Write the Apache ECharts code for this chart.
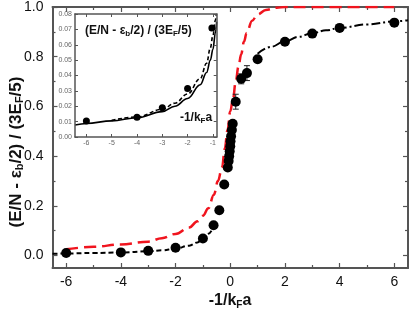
<!DOCTYPE html>
<html>
<head>
<meta charset="utf-8">
<script src="https://cdn.jsdelivr.net/npm/echarts@6/dist/echarts.min.js"></script>
<style>html,body{margin:0;padding:0;background:#fff}#c{width:409px;height:312px}</style>
</head>
<body>
<div id="c"></div>
<script>
// ---- data ----
const pointsX = [-6, -4, -3, -2, -1, -0.61, -0.40, -0.22, -0.09, -0.06, -0.04, -0.02, 0.0, 0.01, 0.03, 0.06, 0.09, 0.2, 0.4, 0.61, 1.0, 2.0, 3.0, 4.0, 6.0];
const pointsY = [0.0101, 0.0128, 0.019, 0.0316, 0.069, 0.122, 0.182, 0.286, 0.354, 0.38, 0.40, 0.42, 0.44, 0.46, 0.48, 0.505, 0.53, 0.619, 0.711, 0.734, 0.79, 0.86, 0.893, 0.916, 0.937];
const errX = [0.2, 0.4, 0.61];
const errY = [0.619, 0.711, 0.734];
const errV = [0.03, 0.02, 0.03];

const bcsFitX = [-6.5, -6, -5, -4, -3, -2.5, -2, -1.5, -1.2, -1, -0.8, -0.6];
const bcsFitY = [0.007, 0.0085, 0.0105, 0.0125, 0.017, 0.021, 0.028, 0.04, 0.053, 0.066, 0.088, 0.118];
const becFitX = [1.0, 1.5, 2, 2.5, 3, 3.5, 4, 5, 6, 6.5];
const becFitY = [0.812, 0.84, 0.862, 0.88, 0.895, 0.906, 0.916, 0.93, 0.942, 0.947];

const redX = [-6, -5, -4, -3, -2.5, -2, -1.5, -1.2, -1, -0.8, -0.6, -0.45, -0.3, -0.2, -0.1, 0, 0.1, 0.2, 0.3, 0.4, 0.5, 0.6, 0.8, 1.0, 1.3, 1.7, 2, 3, 4, 5, 6];
const redY = [0.025, 0.035, 0.045, 0.056, 0.07, 0.087, 0.113, 0.138, 0.16, 0.19, 0.245, 0.3, 0.355, 0.43, 0.505, 0.58, 0.63, 0.7, 0.76, 0.81, 0.86, 0.895, 0.945, 0.97, 0.988, 0.997, 1.0, 1.0, 1.0, 1.0, 1.0];

const insetPtsX = [-6, -4, -3, -2, -1.04];
const insetPtsY = [0.0104, 0.0128, 0.019, 0.0316, 0.0709];
const insetSolidX = [-6.45, -6, -5, -4, -3, -2.5, -2, -1.5, -1.25, -1.1, -1.0, -0.9, -0.85];
const insetSolidY = [0.0078, 0.0088, 0.0105, 0.0125, 0.0165, 0.02, 0.025, 0.034, 0.042, 0.05, 0.057, 0.068, 0.075];
const insetDashX = [-5, -4, -3, -2.5, -2, -1.5, -1.25, -1.1, -1.0, -0.9, -0.87];
const insetDashY = [0.0108, 0.013, 0.018, 0.022, 0.028, 0.038, 0.048, 0.058, 0.066, 0.076, 0.08];

const xMajor = [-6, -4, -2, 0, 2, 4, 6];
const xMinor = [-5, -3, -1, 1, 3, 5];
const yMajor = [0, 0.2, 0.4, 0.6, 0.8, 1.0];
const yMinor = [0.1, 0.3, 0.5, 0.7, 0.9];
const insetXTicks = [-6, -5, -4, -3, -2, -1];
const insetYTicks = [0, 0.01, 0.02, 0.03, 0.04, 0.05, 0.06, 0.07, 0.08];

const zip = (a, b) => a.map((v, i) => [v, b[i]]);
const FONT = 'Liberation Sans, Arial, Helvetica, sans-serif';
const AXC = '#555';

function ax(o) {
  return {
    type: 'value', gridIndex: o.grid, position: o.pos, min: o.min, max: o.max,
    z: o.z || 0,
    axisLine: { show: !!o.line, onZero: false, lineStyle: { color: AXC, width: o.lw || 2 } },
    axisTick: { show: true, inside: true, length: o.len, customValues: o.ticks, lineStyle: { color: AXC, width: o.tw || 1.2 } },
    axisLabel: o.labels ? { show: true, customValues: o.labels, formatter: o.fmt, margin: o.margin, color: o.lc || '#111', fontSize: o.fs, fontFamily: FONT } : { show: false },
    splitLine: { show: false }, minorTick: { show: false }
  };
}

const chart = echarts.init(document.getElementById('c'), null, { renderer: 'canvas' });

const subRich = (fs, sub, pad) => ({
  s: { fontSize: sub, fontWeight: 'bold', fontFamily: FONT, fill: '#111', color: '#111', padding: [pad, 0, 0, 0] }
});

chart.setOption({
  animation: false,
  backgroundColor: '#fff',
  grid: [
    { left: 52.5, right: 1, top: 5, bottom: 44 },
    { left: 75, top: 14, width: 141.7, height: 123, show: true, backgroundColor: '#fff', borderWidth: 0, z: 10 }
  ],
  xAxis: [
    ax({ grid: 0, pos: 'bottom', min: -6.5, max: 6.5, line: true, len: 5, ticks: xMajor, labels: xMajor, fmt: v => String(v), margin: 7, fs: 14 }),
    ax({ grid: 0, pos: 'bottom', min: -6.5, max: 6.5, len: 3, ticks: xMinor }),
    ax({ grid: 0, pos: 'top', min: -6.5, max: 6.5, line: true, len: 5, ticks: xMajor }),
    ax({ grid: 0, pos: 'top', min: -6.5, max: 6.5, len: 3, ticks: xMinor }),
    ax({ grid: 1, pos: 'bottom', min: -6.45, max: -0.85, line: true, lw: 1.5, len: 3, tw: 1, ticks: insetXTicks, labels: insetXTicks, fmt: v => String(v), margin: 3, fs: 7, lc: '#666', z: 12 }),
    ax({ grid: 1, pos: 'top', min: -6.45, max: -0.85, line: true, lw: 1.5, len: 3, tw: 1, ticks: insetXTicks, z: 12 })
  ],
  yAxis: [
    ax({ grid: 0, pos: 'left', min: -0.05, max: 1.0, line: true, len: 5, ticks: yMajor, labels: yMajor, fmt: v => v.toFixed(1), margin: 9, fs: 14 }),
    ax({ grid: 0, pos: 'left', min: -0.05, max: 1.0, len: 3, ticks: yMinor }),
    ax({ grid: 0, pos: 'right', min: -0.05, max: 1.0, line: true, len: 5, ticks: yMajor }),
    ax({ grid: 0, pos: 'right', min: -0.05, max: 1.0, len: 3, ticks: yMinor }),
    ax({ grid: 1, pos: 'left', min: 0, max: 0.08, line: true, lw: 1.5, len: 3, tw: 1, ticks: insetYTicks, labels: insetYTicks, fmt: v => v.toFixed(2), margin: 3, fs: 7, lc: '#666', z: 12 }),
    ax({ grid: 1, pos: 'right', min: 0, max: 0.08, line: true, lw: 1.5, len: 3, tw: 1, ticks: insetYTicks, z: 12 })
  ],
  series: [
    { type: 'line', xAxisIndex: 0, yAxisIndex: 0, data: zip(redX, redY), showSymbol: false, smooth: 0.4, smoothMonotone: 'x',
      lineStyle: { color: '#f0141e', width: 2.5, type: [12, 6] }, z: 2 },
    { type: 'line', xAxisIndex: 0, yAxisIndex: 0, data: zip(bcsFitX, bcsFitY), showSymbol: false, smooth: 0.4, smoothMonotone: 'x',
      lineStyle: { color: '#000', width: 2, type: [5, 3] }, z: 3 },
    { type: 'line', xAxisIndex: 0, yAxisIndex: 0, data: zip(becFitX, becFitY), showSymbol: false, smooth: 0.4, smoothMonotone: 'x',
      lineStyle: { color: '#000', width: 2, type: [9, 3, 2, 3] }, z: 3 },
    { type: 'custom', xAxisIndex: 0, yAxisIndex: 0, data: errX.map((x, i) => [x, errY[i], errV[i]]), z: 4,
      renderItem: function (params, api) {
        const x = api.value(0), y = api.value(1), e = api.value(2);
        const t = api.coord([x, y + e]), b = api.coord([x, y - e]);
        const st = { stroke: '#222', lineWidth: 1 };
        return { type: 'group', children: [
          { type: 'line', shape: { x1: t[0], y1: t[1], x2: b[0], y2: b[1] }, style: st },
          { type: 'line', shape: { x1: t[0] - 3, y1: t[1], x2: t[0] + 3, y2: t[1] }, style: st },
          { type: 'line', shape: { x1: b[0] - 3, y1: b[1], x2: b[0] + 3, y2: b[1] }, style: st }
        ] };
      },
      encode: { x: 0, y: 1 } },
    { type: 'scatter', xAxisIndex: 0, yAxisIndex: 0, data: zip(pointsX, pointsY), symbol: 'circle', symbolSize: 10,
      itemStyle: { color: '#000', opacity: 1 }, z: 5 },
    // inset
    { type: 'line', xAxisIndex: 4, yAxisIndex: 4, data: zip(insetSolidX, insetSolidY), showSymbol: false, smooth: 0.4, smoothMonotone: 'x',
      lineStyle: { color: '#000', width: 1.6 }, z: 11 },
    { type: 'line', xAxisIndex: 4, yAxisIndex: 4, data: zip(insetDashX, insetDashY), showSymbol: false, smooth: 0.4, smoothMonotone: 'x',
      lineStyle: { color: '#000', width: 1.6, type: [4, 2.5] }, z: 11 },
    { type: 'scatter', xAxisIndex: 4, yAxisIndex: 4, data: zip(insetPtsX, insetPtsY), symbol: 'circle', symbolSize: 7,
      itemStyle: { color: '#000', opacity: 1 }, z: 12 }
  ],
  graphic: [
    { type: 'text', x: 16, y: 152, rotation: Math.PI / 2, z: 20,
      style: { text: '(E/N - ε{s|b}/2) / (3E{s|F}/5)', font: 'bold 17px ' + FONT, fontSize: 17, fontWeight: 'bold', fontFamily: FONT,
        fill: '#111', align: 'center', verticalAlign: 'middle', textAlign: 'center', textVerticalAlign: 'middle', rich: subRich(17, 11, 8) } },
    { type: 'text', x: 230, y: 301, z: 20,
      style: { text: '-1/k{s|F}a', font: 'bold 16px ' + FONT, fontSize: 16, fontWeight: 'bold', fontFamily: FONT,
        fill: '#111', align: 'center', verticalAlign: 'middle', textAlign: 'center', textVerticalAlign: 'middle', rich: subRich(16, 10, 8) } },
    { type: 'text', x: 85, y: 31, z: 30,
      style: { text: '(E/N - ε{s|b}/2) / (3E{s|F}/5)', font: 'bold 12px ' + FONT, fontSize: 12, fontWeight: 'bold', fontFamily: FONT,
        fill: '#111', align: 'left', verticalAlign: 'middle', textAlign: 'left', textVerticalAlign: 'middle', rich: subRich(12, 8, 6) } },
    { type: 'text', x: 196, y: 118, z: 30,
      style: { text: '-1/k{s|F}a', font: 'bold 12px ' + FONT, fontSize: 12, fontWeight: 'bold', fontFamily: FONT,
        fill: '#111', align: 'center', verticalAlign: 'middle', textAlign: 'center', textVerticalAlign: 'middle', rich: subRich(12, 8, 6) } }
  ]
});
</script>
</body>
</html>
